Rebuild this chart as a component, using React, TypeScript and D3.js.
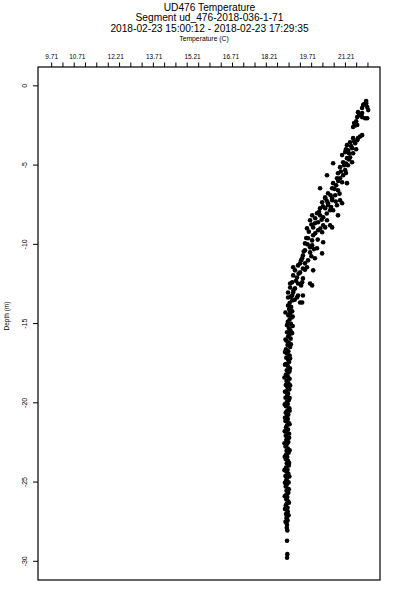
import React from "react";
import * as d3 from "d3";

const titleLines = [
  "UD476 Temperature",
  "Segment ud_476-2018-036-1-71",
  "2018-02-23 15:00:12 - 2018-02-23 17:29:35",
];
const xTitle = "Temperature (C)";
const yTitle = "Depth (m)";

const tempLabels = [9.71, 10.71, 12.21, 13.71, 15.21, 16.71, 18.21, 19.71, 21.21];
const tempTicks = [
  9.71, 10.15, 10.59, 11.03, 11.47, 11.92, 12.36, 12.8, 13.24, 13.68, 14.12,
  14.56, 15.0, 15.45, 15.89, 16.33, 16.77, 17.21, 17.65, 18.09, 18.53, 18.98,
  19.42, 19.86, 20.3, 20.74, 21.18, 21.62, 22.06,
];
const depthTicks = [0, -5, -10, -15, -20, -25, -30];

// [temperature, depth] - warm layer above ~13 m
const upperReadings: [number, number][] = [
  [21.99, -0.96], [21.99, -1.09], [21.87, -1.21], [22.03, -1.34], [21.83, -1.4],
  [22.07, -1.53], [21.67, -1.66], [21.83, -1.72], [21.75, -1.78], [21.64, -1.97],
  [21.83, -1.97], [21.95, -2.04], [22.03, -2.04], [21.6, -2.23], [21.52, -2.35],
  [21.64, -2.47], [21.48, -2.6], [21.91, -1.15], [21.71, -1.85], [21.56, -2.5],
  [21.83, -3.11], [21.67, -3.3], [21.48, -3.3], [21.36, -3.56], [21.56, -3.62],
  [21.24, -3.74], [21.44, -3.93], [21.28, -4.06], [21.17, -4.18], [21.48, -4.25],
  [21.36, -4.5], [21.24, -4.56], [21.05, -4.37], [21.09, -4.82], [21.44, -4.82],
  [20.7, -4.88], [21.28, -5.01], [20.97, -5.13], [21.17, -5.32], [20.89, -5.51],
  [20.46, -5.64], [21.09, -5.64], [20.85, -5.83], [21.05, -6.08], [21.24, -6.14],
  [20.7, -6.14], [20.19, -6.46], [20.66, -6.46], [20.89, -6.59], [20.5, -6.78],
  [20.78, -6.9], [20.39, -7.09], [20.66, -7.22], [21.05, -7.41], [20.27, -7.35],
  [21.64, -3.43], [21.32, -4.25], [21.13, -5.01], [20.97, -5.83], [20.82, -6.27],
  [21.75, -3.2], [21.52, -3.5], [21.4, -3.8], [21.2, -4.0], [21.6, -4.0],
  [21.32, -4.65], [21.2, -4.9], [21.0, -5.4], [21.2, -5.5], [20.9, -6.0],
  [20.75, -6.5], [20.6, -6.9], [20.95, -6.8], [20.45, -7.25], [20.8, -7.3],
  [20.39, -7.03], [20.66, -7.09], [20.97, -7.22], [20.5, -7.41], [20.85, -7.53],
  [20.19, -7.72], [20.07, -8.04], [20.58, -7.85], [19.88, -8.17], [20.31, -8.29],
  [20.89, -8.17], [19.8, -8.48], [20.11, -8.61], [20.39, -8.93], [19.92, -8.93],
  [19.68, -8.99], [20.27, -9.24], [20.66, -8.93], [19.92, -9.43], [19.72, -9.62],
  [20.31, -9.87], [19.88, -10.06], [19.6, -9.94], [20.07, -10.25], [19.8, -10.51],
  [20.27, -10.57], [19.52, -10.7], [19.72, -11.01], [19.99, -10.88], [19.41, -11.2],
  [19.68, -11.45], [19.14, -11.45], [19.92, -11.64], [19.41, -11.77], [19.29, -12.09],
  [19.52, -12.15], [19.8, -12.47], [19.02, -12.47], [19.21, -12.78], [18.94, -13.04],
  [19.1, -13.23], [19.29, -13.35], [19.49, -13.67],
  [20.3, -7.6], [20.62, -7.65], [20.15, -7.95], [20.45, -8.05], [20.0, -8.35],
  [20.25, -8.45], [19.85, -8.75], [20.2, -9.0], [19.75, -9.2], [20.0, -9.3],
  [19.65, -9.6], [20.1, -9.7], [19.7, -10.0], [19.95, -10.3], [19.55, -10.45],
  [19.85, -10.75], [19.45, -11.0], [19.6, -11.6], [19.35, -11.85], [19.25, -12.3],
  [19.45, -12.6], [19.15, -12.9], [19.05, -13.3], [19.2, -13.5], [19.0, -13.7],
  [19.99, -8.67], [20.11, -9.11], [19.88, -9.75], [19.8, -10.19], [19.6, -10.38],
  [19.49, -10.88], [19.6, -11.2], [19.33, -11.33], [19.52, -11.52], [19.21, -11.64],
  [19.14, -11.96], [19.1, -12.4], [19.02, -12.72], [20.46, -8.48], [20.58, -8.8],
  [20.31, -8.8], [20.19, -8.17], [20.5, -7.53], [20.7, -7.85], [20.39, -7.72],
  [19.33, -12.47], [19.49, -12.4], [19.88, -12.59], [19.14, -13.04], [19.33, -13.23],
  [18.94, -13.35], [19.1, -13.54], [19.52, -13.23], [19.41, -13.67], [18.94, -13.86],
  [19.02, -14.17],
];

// [temperature, depth] - mixed column below ~14 m
const lowerReadings: [number, number][] = [
  [19.06, -13.95], [18.98, -14.08], [19.1, -14.22], [19.02, -14.35], [18.95, -14.48],
  [19.08, -14.62], [19.0, -14.75], [18.93, -14.88], [19.05, -15.02], [19.12, -15.15],
  [18.97, -15.28], [19.03, -15.42], [18.9, -15.55], [19.0, -15.68], [18.94, -15.82],
  [19.04, -15.95], [18.88, -16.08], [18.97, -16.22], [18.92, -16.35], [19.02, -16.48],
  [18.86, -16.62], [18.95, -16.75], [18.9, -16.88], [19.0, -17.02], [18.87, -17.15],
  [18.94, -17.28], [18.98, -17.42], [18.85, -17.55], [18.93, -17.68], [19.01, -17.82],
  [18.89, -17.95], [18.96, -18.08], [18.86, -18.22], [18.93, -18.35], [19.0, -18.48],
  [18.88, -18.62], [18.95, -18.75], [18.85, -18.88], [18.92, -19.02], [18.99, -19.15],
  [18.87, -19.28], [18.94, -19.42], [18.9, -19.55], [18.84, -19.68], [18.97, -19.82],
  [18.89, -19.95], [18.93, -20.08], [18.86, -20.22], [18.99, -20.35], [18.91, -20.48],
  [18.85, -20.62], [18.95, -20.75], [18.88, -20.88], [18.93, -21.02], [18.84, -21.15],
  [18.97, -21.28], [18.9, -21.42], [18.86, -21.55], [18.94, -21.68], [18.88, -21.82],
  [18.98, -21.95], [18.85, -22.08], [18.92, -22.22], [18.87, -22.35], [18.95, -22.48],
  [18.89, -22.62], [18.84, -22.75], [18.93, -22.88], [18.88, -23.02], [18.96, -23.15],
  [18.86, -23.28], [18.91, -23.42], [18.85, -23.55], [18.94, -23.68], [18.89, -23.82],
  [18.97, -23.95], [18.86, -24.08], [18.92, -24.22], [18.88, -24.35], [18.95, -24.48],
  [18.84, -24.62], [18.9, -24.75], [18.87, -24.88], [18.96, -25.02], [18.89, -25.15],
  [18.85, -25.28], [18.93, -25.42], [18.88, -25.55], [18.95, -25.68], [18.86, -25.82],
  [18.91, -25.95], [18.87, -26.08], [18.94, -26.22], [18.89, -26.35], [18.85, -26.48],
  [18.92, -26.62], [18.88, -26.75], [18.93, -26.88], [18.86, -27.02], [18.9, -27.15],
  [18.88, -27.28], [18.92, -27.42], [18.87, -27.55], [18.9, -27.7], [18.89, -27.88],
  [18.91, -28.05], [18.9, -28.7], [18.91, -29.55], [18.9, -29.78],
  [18.84, -14.3], [19.12, -14.55], [18.9, -15.1], [19.1, -15.6], [18.84, -16.0],
  [19.05, -16.3], [18.82, -16.8], [19.02, -17.2], [18.82, -17.6], [19.0, -18.0],
  [18.8, -18.4], [19.02, -18.9], [18.82, -19.3], [19.0, -19.7], [18.81, -20.1],
  [19.0, -20.5], [18.82, -20.95], [19.0, -21.35], [18.81, -21.8], [18.98, -22.2],
  [18.8, -22.55], [19.0, -23.0], [18.81, -23.4], [18.98, -23.8], [18.8, -24.25],
  [18.99, -24.65], [18.82, -25.05], [18.97, -25.45], [18.81, -25.9], [18.97, -26.3],
  [18.82, -26.7], [18.96, -27.1], [18.84, -27.5],
];

const font = "'Liberation Sans', Arial, Helvetica, sans-serif";

export default function App() {
  const width = 400;
  const height = 600;
  const plot = { left: 38, top: 67, right: 380, bottom: 580 };

  const x = d3.scaleLinear().domain([9.175, 22.53]).range([plot.left, plot.right]);
  const y = d3.scaleLinear().domain([1.19, -31.18]).range([plot.top, plot.bottom]);
  const readings = upperReadings.concat(lowerReadings);

  return (
    <svg
      width={width}
      height={height}
      style={{ position: "absolute", left: 0, top: 0, background: "#fff" }}
      fontFamily={font}
    >
      {titleLines.map((t, i) => (
        <text key={t} x={209.5} y={[10.5, 21, 32][i]} fontSize={10.2} textAnchor="middle">
          {t}
        </text>
      ))}
      <text x={204} y={40.5} fontSize={6.8} textAnchor="middle">
        {xTitle}
      </text>

      {/* top axis */}
      {tempTicks.map((t) => (
        <line key={t} x1={x(t)} x2={x(t)} y1={plot.top} y2={plot.top - 4.5} stroke="#000" />
      ))}
      {tempLabels.map((t) => (
        <text key={t} x={x(t)} y={58.5} fontSize={6.5} textAnchor="middle">
          {t.toFixed(2)}
        </text>
      ))}

      {/* left axis */}
      {depthTicks.map((d) => (
        <g key={d}>
          <line x1={plot.left - 5} x2={plot.left} y1={y(d)} y2={y(d)} stroke="#000" />
          <text
            transform={`translate(26.5,${y(d)}) rotate(-90)`}
            fontSize={7}
            textAnchor="middle"
          >
            {d}
          </text>
        </g>
      ))}
      <text transform={`translate(8.5,316) rotate(-90)`} fontSize={6.5} textAnchor="middle">
        {yTitle}
      </text>

      <rect
        x={plot.left}
        y={plot.top}
        width={plot.right - plot.left}
        height={plot.bottom - plot.top}
        fill="none"
        stroke="#000"
        strokeWidth={1.2}
      />

      {readings.map(([t, d], i) => (
        <circle key={i} cx={x(t)} cy={y(d)} r={2.3} fill="#000" />
      ))}
    </svg>
  );
}
